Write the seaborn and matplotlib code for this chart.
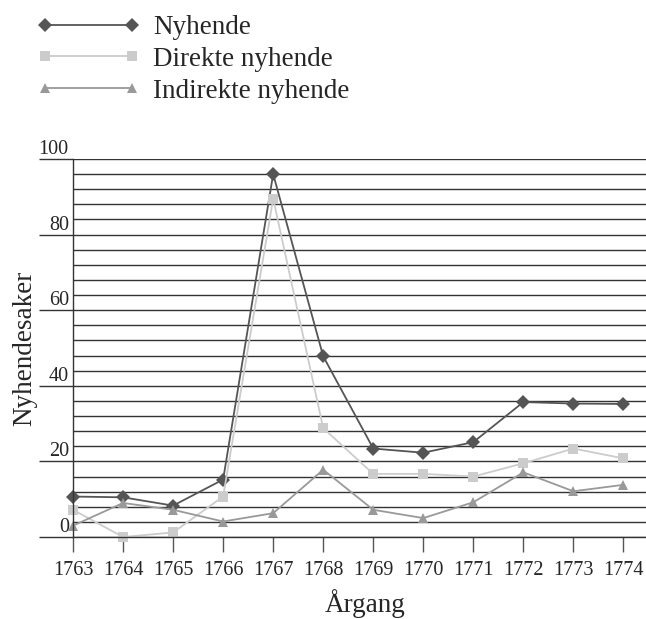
import matplotlib
matplotlib.use("Agg")
import matplotlib.pyplot as plt
from matplotlib.ticker import MultipleLocator
import seaborn as sns

years = [1763, 1764, 1765, 1766, 1767, 1768, 1769, 1770, 1771, 1772, 1773, 1774]
nyhende = [10.7, 10.5, 8.3, 15.2, 96.0, 47.8, 23.4, 22.3, 25.1, 35.7, 35.3, 35.2]
direkte = [7.2, 0.0, 1.2, 10.7, 89.5, 28.8, 16.7, 16.7, 16.0, 19.5, 23.4, 20.8]
indirekte = [3.0, 9.0, 7.2, 4.1, 6.3, 17.8, 7.2, 5.0, 9.2, 17.1, 12.1, 13.8]
labels = ["Nyhende", "Direkte nyhende", "Indirekte nyhende"]
colors = ["#555555", "#cccccc", "#999999"]
markers = ["D", "s", "^"]

sns.set_style("ticks")
plt.rcParams['font.family'] = ['Liberation Serif', 'DejaVu Serif']

fig = plt.figure(figsize=(6.46, 6.19), dpi=100)
ax = fig.add_axes([73 / 646, 1 - 537 / 619, 1 - 73 / 646, (537 - 159) / 619])

for vals, lab, col, mk in zip([nyhende, direkte, indirekte], labels, colors, markers):
    sns.lineplot(x=years, y=vals, ax=ax, color=col, marker=mk, label=lab,
                 markersize=7, markeredgewidth=0, linewidth=1.3, clip_on=False)

ax.set_xlim(1763, 1774.45)
ax.set_ylim(0, 100)
ax.set_xticks(years)
ax.set_yticks(range(0, 101, 20))
ax.yaxis.set_minor_locator(MultipleLocator(4))
ax.grid(axis="y", which="both", color="#333333", linewidth=1)
ax.set_axisbelow(True)
for s in ["top", "right"]:
    ax.spines[s].set_visible(False)
for s in ["left", "bottom"]:
    ax.spines[s].set_color("#333333")
    ax.spines[s].set_linewidth(1)

ax.tick_params(axis="y", which="major", length=24.5, width=1, color="#333333",
               pad=-21.5, labelsize=14.5)
ax.tick_params(axis="y", which="minor", length=0)
ax.tick_params(axis="x", length=11, width=1, color="#555555", pad=6, labelsize=14.5)
for t in ax.yaxis.get_major_ticks():
    t.label1.set_va("bottom")

ax.set_xlabel("Årgang", fontsize=19.5)
ax.set_ylabel("Nyhendesaker", fontsize=19.5)
ax.xaxis.set_label_coords(0.51, -0.138)
ax.yaxis.set_label_coords(-0.063, 0.5)

h, l = ax.get_legend_handles_labels()
ax.legend_.remove()
fig.legend(h, l, loc="upper left", bbox_to_anchor=(37 / 646, 1 - 15 / 619), frameon=False,
           numpoints=2, handlelength=3.8, handletextpad=0.48, fontsize=19.5,
           labelspacing=0.25, borderaxespad=0, borderpad=0)

fig.savefig("out.png", dpi=100)
